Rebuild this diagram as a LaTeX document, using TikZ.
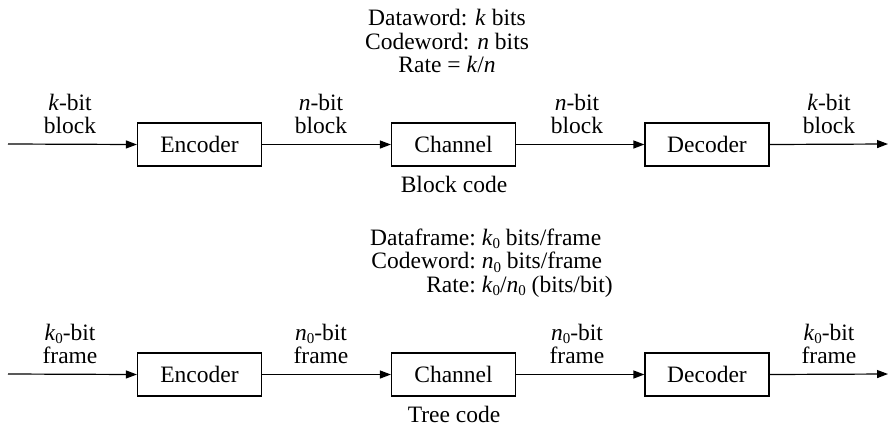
\documentclass[tikz,border=0pt]{standalone}
\usepackage{fontspec}
\setmainfont{Liberation Serif}
\usetikzlibrary{arrows.meta}
\newcommand{\lowsub}[1]{\raisebox{-0.3ex}{\fontsize{15}{15}\selectfont #1}}
\begin{document}
\begin{tikzpicture}[x=1pt,y=-1pt,
  every node/.style={font=\fontsize{23.5}{23.5}\selectfont},
  blk/.style={draw,line width=1.2pt,minimum width=124pt,minimum height=43pt,inner sep=0},
  lbl/.style={align=center,inner sep=0},
  conn/.style={line width=1.2pt,-{Triangle[length=11pt,width=8pt]}}]
\useasboundingbox (0,0) rectangle (890,426);
% ---- block code row ----
\node[lbl] (hdr1) at (447,41) {Dataword: \textit{k} bits\\Codeword: \textit{n} bits\\Rate = \textit{k}/\textit{n}};
\coordinate (in1) at (8,144);
\coordinate (out1) at (888,144);
\node[blk] (enc1) at (199.5,144.5) {Encoder};
\node[blk] (ch1) at (453.5,144.5) {Channel};
\node[blk] (dec1) at (707,144.5) {Decoder};
\node[lbl] (l11) at (70,114) {\textit{k}-bit\\block};
\node[lbl] (l12) at (321,114) {\textit{n}-bit\\block};
\node[lbl] (l13) at (577,114) {\textit{n}-bit\\block};
\node[lbl] (l14) at (829,114) {\textit{k}-bit\\block};
\node[lbl] (cap1) at (454,184) {Block code};
\draw[conn] (in1) -- (enc1.west);
\draw[conn] (enc1.east) -- (ch1.west);
\draw[conn] (ch1.east) -- (dec1.west);
\draw[conn] (dec1.east) -- (out1);
% ---- tree code row ----
\node[inner sep=0,anchor=west] (hdr2) at (370,264) {\begin{tabular}{@{}r@{\ }l@{}}
Dataframe: & \textit{k}\lowsub{0} bits/frame\\
Codeword: & \textit{n}\lowsub{0} bits/frame\\
Rate: & \textit{k}\lowsub{0}/\textit{n}\lowsub{0} (bits/bit)
\end{tabular}};
\coordinate (in2) at (8,374);
\coordinate (out2) at (888,374);
\node[blk] (enc2) at (199.5,374.5) {Encoder};
\node[blk] (ch2) at (453.5,374.5) {Channel};
\node[blk] (dec2) at (707,374.5) {Decoder};
\node[lbl] (l21) at (70,344) {\textit{k}\lowsub{0}-bit\\frame};
\node[lbl] (l22) at (321,344) {\textit{n}\lowsub{0}-bit\\frame};
\node[lbl] (l23) at (577,344) {\textit{n}\lowsub{0}-bit\\frame};
\node[lbl] (l24) at (829,344) {\textit{k}\lowsub{0}-bit\\frame};
\node[lbl] (cap2) at (454,414) {Tree code};
\draw[conn] (in2) -- (enc2.west);
\draw[conn] (enc2.east) -- (ch2.west);
\draw[conn] (ch2.east) -- (dec2.west);
\draw[conn] (dec2.east) -- (out2);
\end{tikzpicture}
\end{document}
